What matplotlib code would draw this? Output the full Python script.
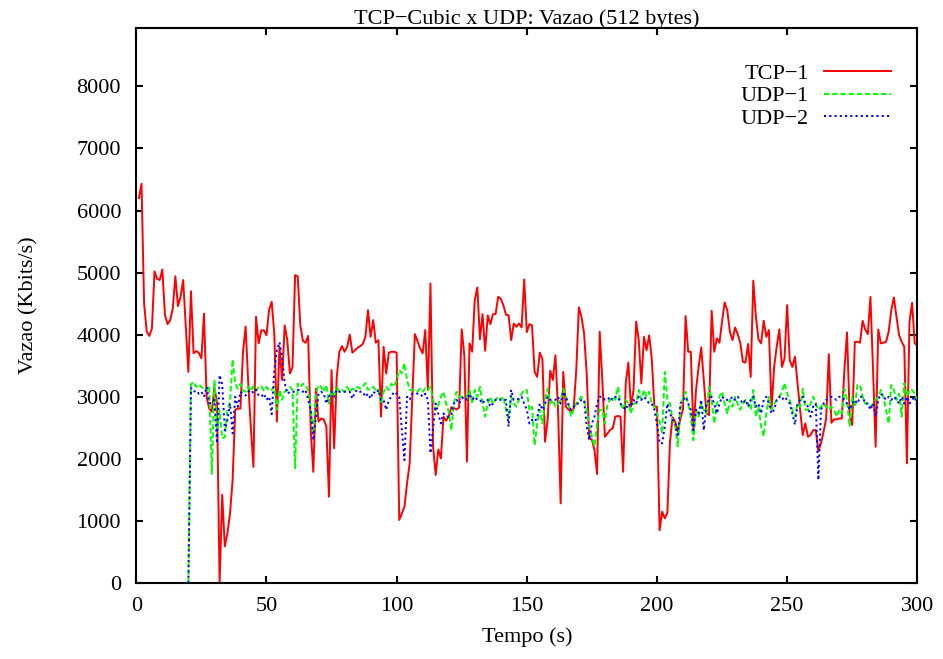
import numpy as np
import matplotlib
matplotlib.use("Agg")
import matplotlib.pyplot as plt

# tempo (s) de cada amostra
tempo_tcp = np.arange(1, 301)
tempo_udp = np.arange(20, 301)

# vazao em Kbits/s
tcp1 = [
    6200, 6430, 4500, 4050, 3980, 4100, 5020, 4900, 4880, 5050,
    4320, 4170, 4230, 4420, 4940, 4460, 4610, 4880, 4150, 3400,
    4700, 3700, 3735, 3710, 3620, 4340, 3000, 2810, 2760, 3160,
    2900, 0, 1420, 590, 800, 1120, 1660, 2790, 2810, 2810,
    3730, 4130, 3220, 2500, 1870, 4290, 3860, 4070, 4070, 3990,
    4400, 4530, 4020, 2600, 3805, 3270, 4150, 3910, 3375, 3480,
    4960, 4940, 4150, 3900, 3870, 3980, 2460, 1790, 3130, 2600,
    2650, 2635, 2520, 1390, 3430, 2170, 3320, 3725, 3815, 3725,
    3805, 4000, 3710, 3750, 3790, 3815, 3850, 3965, 4395, 3965,
    4235, 3870, 3910, 2680, 3805, 3375, 3710, 3725, 3725, 3710,
    1015, 1120, 1230, 1605, 1925, 2950, 4010, 3900, 3780, 3700,
    4075, 3110, 4825, 2195, 1740, 2150, 2007, 2680, 2615, 2680,
    2830, 2820, 2795, 2825, 4085, 3670, 1955, 3860, 3725, 4555,
    4760, 3925, 4330, 3740, 4310, 4170, 4330, 4330, 4610, 4578,
    4476, 4320, 4315, 3912, 4180, 4127, 4180, 4116, 4890, 4041,
    4170, 4150, 3400, 3320, 3710, 3610, 2275, 2625, 3420, 3270,
    3670, 2785, 1283, 3400, 2840, 2795, 2760, 2810, 3430, 4440,
    4290, 4020, 3375, 2330, 2310, 2140, 1755, 4047, 3270, 2355,
    2410, 2465, 2490, 2680, 2690, 2680, 1790, 3215, 3550, 2840,
    3110, 4210, 3910, 3215, 3965, 3750, 3990, 3615, 2840, 2840,
    850, 1150, 1040, 1130, 2275, 2670, 2600, 2440, 2650, 2795,
    4300, 3725, 3725, 2440, 3110, 3480, 3795, 3260, 2730, 2705,
    4385, 3725, 3940, 3870, 4210, 4520, 4395, 4047, 3912, 4116,
    4010, 3870, 3565, 3550, 3850, 3320, 4870, 4290, 3925, 3860,
    4225, 3965, 4075, 2795, 3480, 3805, 4085, 3480, 3617, 4476,
    3590, 3480, 3645, 3215, 2785, 2383, 2570, 2356, 2383, 2463,
    2463, 2125, 2249, 2437, 2650, 3687, 2581, 2635, 2635, 2650,
    2650, 3430, 4036, 2732, 2544, 3880, 3886, 3870, 4224, 4084,
    4009, 4610, 3430, 2195, 4084, 3860, 3870, 3886, 4047, 4395,
    4600, 4288, 3993, 3886, 3805, 1927, 4208, 4514, 3860, 3832,
]

udp1 = [
    0, 3200, 3240, 3160, 3200, 3160, 3130, 3100, 3180, 1760, 3260,
    2460, 2780, 2330, 2350, 2790, 2920, 3600, 3210, 3130, 3210,
    3100, 3080, 3160, 3090, 3170, 3100, 3160, 3170, 3100, 3160, 3100,
    3110, 3160, 2790, 3110, 2950, 3080, 3110, 3160, 3110, 1850,
    3210, 3160, 3210, 3190, 3110, 2790, 2410, 3050, 3190, 3160,
    3080, 3190, 2890, 3110, 3000, 3160, 3080, 3110, 3080, 3160,
    3080, 3130, 3110, 3160, 3130, 3160, 3220, 3110, 3130, 3160,
    3110, 3130, 2890, 3080, 3160, 3110, 3210, 3160, 3270, 3430,
    3380, 3540, 3270, 3110, 3110, 3110, 3080, 3130, 3080, 3140,
    3110, 3160, 2950, 2785, 2870, 3000, 3080, 2890, 2760, 2460,
    2890, 3080, 3000, 3000, 3000, 3000, 3110, 2890, 3110, 3000,
    3160, 2890, 2680, 2890, 3000, 2890, 2950, 3000, 2950, 3000,
    2790, 2650, 3000, 2890, 2840, 2950, 3050, 3110, 3110, 2780,
    2840, 2220, 2570, 2790, 2570, 2950, 3130, 2890, 2950, 2840,
    2890, 2950, 3130, 3000, 2890, 2680, 2790, 2890, 2950, 3000,
    2950, 2790, 2520, 2360, 2200, 2570, 2790, 2790, 2570, 2890,
    2950, 3000, 2950, 3160, 2890, 2790, 2950, 2890, 2730, 2890,
    2890, 3110, 2950, 3110, 3000, 3080, 2890, 2840, 2730, 2600,
    2410, 3400, 2950, 2890, 2620, 2520, 2200, 2790, 3000, 3080,
    2890, 2680, 2300, 2790, 2680, 2890, 2790, 2730, 3160, 2950,
    2570, 2890, 3000, 3080, 2890, 2730, 2950, 2840, 3000, 2890,
    2790, 2890, 2950, 2890, 2790, 3110, 2680, 2840, 2520, 2360,
    2730, 3000, 2790, 2890, 2950, 3000, 3080, 3220, 3050, 2950,
    2790, 2680, 2890, 2840, 3130, 2790, 2790, 2890, 3000, 2890,
    2790, 2840, 2890, 2840, 2790, 2840, 2790, 2680, 2790, 2730,
    3130, 2950, 2520, 3000, 2840, 3190, 3190, 3000, 2890, 2890,
    2840, 2890, 2950, 3000, 3110, 3000, 2790, 2570, 3190, 3110,
    2950, 3050, 2680, 3220, 3000, 3110, 3110, 3050, 2950,
]

udp2 = [
    0, 3140, 3080, 3100, 3050, 3080, 3000, 3160, 2900, 2900, 2950,
    2250, 3350, 3200, 2460, 2620, 2890, 2410, 3000, 2840, 3080,
    3050, 3020, 3080, 3110, 3060, 3110, 3020, 3000, 3050, 2950, 3000,
    2720, 3430, 3750, 3880, 3640, 3220, 3050, 3080, 3080, 3080,
    3110, 3110, 3080, 3110, 2950, 2790, 2300, 2680, 3050, 3080,
    3050, 2890, 3000, 3080, 3000, 3110, 3080, 3080, 3080, 3080,
    3080, 2970, 3080, 3110, 3080, 3080, 3000, 3050, 2970, 3080,
    3050, 3110, 2950, 2950, 2790, 2950, 3000, 3080, 3050, 3000,
    2460, 1980, 3000, 2950, 3050, 3050, 3050, 3050, 3000, 3050,
    2950, 2090, 2490, 2890, 2730, 2570, 2730, 2680, 2680, 2710,
    2890, 2950, 2890, 2970, 3000, 2950, 3050, 2950, 3000, 2950,
    2950, 2890, 2950, 2950, 2840, 2890, 2950, 2970, 2950, 2950,
    2950, 2520, 3110, 2950, 2950, 2970, 3000, 2890, 2790, 2570,
    2630, 2600, 2660, 2890, 2790, 2890, 3000, 2950, 2950, 2950,
    3000, 2890, 3080, 3000, 2870, 2790, 2840, 2890, 2890, 2950,
    2950, 2520, 2300, 2570, 2680, 2890, 3000, 3000, 2950, 2950,
    3000, 2950, 3000, 3000, 2890, 2840, 2790, 2890, 2840, 2950,
    2890, 3000, 2950, 3000, 2950, 2890, 2890, 2790, 2570, 2250,
    2250, 2520, 2890, 2730, 2630, 2570, 2350, 2890, 2950, 3000,
    2890, 2790, 2460, 2790, 2730, 2950, 2460, 2890, 2950, 3000,
    2890, 2730, 2890, 3000, 2950, 2950, 2950, 3000, 2950, 3000,
    2950, 2890, 2950, 2840, 2950, 3000, 2840, 2890, 2730, 2950,
    3000, 2890, 2730, 2790, 2950, 3000, 2950, 3000, 2950, 2890,
    2730, 2550, 2890, 2950, 3000, 2890, 2840, 2680, 2840, 2890,
    1660, 2790, 2890, 2950, 2970, 3000, 2970, 2950, 3000, 3000,
    2950, 2890, 2790, 2890, 2950, 2890, 3000, 3000, 2890, 2890,
    2790, 2890, 2680, 2950, 3050, 3000, 2950, 3000, 2950, 3000,
    2950, 2890, 3000, 2890, 3000, 2890, 2950, 3000, 2840,
]

plt.rcParams['font.family'] = ['Liberation Serif', 'DejaVu Serif']
plt.rcParams['font.size'] = 16

W, H = 943, 659
fig = plt.figure(figsize=(W / 100, H / 100), dpi=100)
left, right, top, bottom = 136.3, 917.3, 28, 583
ax = fig.add_axes([left / W, 1 - bottom / H, (right - left) / W, (bottom - top) / H])

ax.plot(tempo_tcp, tcp1, color='#ff0000', lw=1.4, label='TCP\u22121', zorder=2)
ax.plot(tempo_udp, udp1, color='#00ff00', lw=1.4, dashes=(2.8, 1.4), label='UDP\u22121', zorder=3)
ax.plot(tempo_udp, udp2, color='#0000ff', lw=1.4, dashes=(1.1, 1.6), label='UDP\u22122', zorder=4)

ax.set_xlim(0, 300)
ax.set_ylim(0, 8940)
ax.set_xticks(range(0, 301, 50))
ax.set_yticks(range(0, 8001, 1000))
ax.tick_params(direction='in', length=5, width=1.5, top=True, right=True)
ax.tick_params(axis='y', pad=11)
ax.tick_params(axis='x', pad=10)
for sp in ax.spines.values():
    sp.set_linewidth(1.5)

ax.legend(loc='upper right', bbox_to_anchor=((891 - left) / (right - left), (bottom - 63) / (bottom - top)),
          frameon=False, markerfirst=False, handlelength=3.0, handletextpad=0.7,
          labelspacing=0.1, borderaxespad=0, borderpad=0)

fig.text(527 / W, 1 - 19 / H, 'TCP\u2212Cubic x UDP: Vazao (512 bytes)', ha='center', va='center')
fig.text(527 / W, 1 - 637 / H, 'Tempo (s)', ha='center', va='center')
fig.text(29 / W, 1 - 305 / H, 'Vazao (Kbits/s)', ha='center', va='center', rotation=90)

fig.savefig('out.png', dpi=100)
